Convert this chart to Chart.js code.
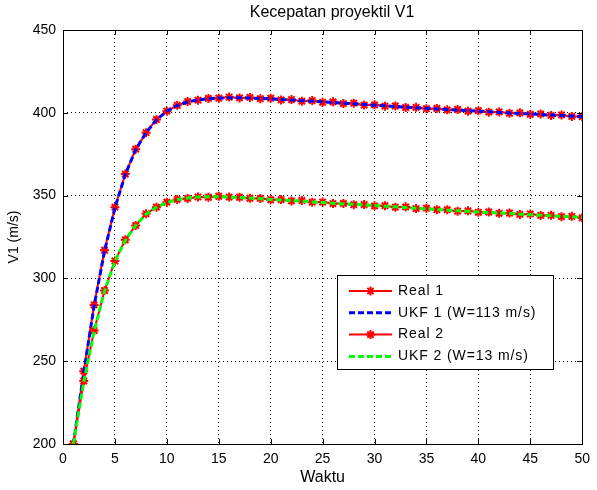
<!DOCTYPE html>
<html lang="id">
<head>
<meta charset="UTF-8">
<title>Kecepatan proyektil V1</title>
<script src="https://cdn.jsdelivr.net/npm/chart.js"></script>
<style>
  html, body { margin: 0; padding: 0; background: #fff; }
  #wrap { width: 597px; height: 490px; }
</style>
</head>
<body>
<div id="wrap"><canvas id="v1Chart" width="597" height="490"></canvas></div>
<script>
// time steps
const waktu = [
  1, 2, 3, 4, 5, 6, 7, 8, 9, 10,
  11, 12, 13, 14, 15, 16, 17, 18, 19, 20,
  21, 22, 23, 24, 25, 26, 27, 28, 29, 30,
  31, 32, 33, 34, 35, 36, 37, 38, 39, 40,
  41, 42, 43, 44, 45, 46, 47, 48, 49, 50
];

// projectile 1: real velocity and UKF estimate (m/s)
const real1 = [
  200, 244, 284, 317, 343, 363, 378, 388, 396, 401,
  404.5, 406.8, 407.6, 408.7, 408.8, 409.5, 409.0, 409.3, 408.5, 408.8,
  407.8, 408.0, 407.0, 407.4, 406.3, 406.6, 405.6, 405.8, 404.7, 404.8,
  404.0, 404.1, 403.2, 403.3, 402.5, 402.6, 401.8, 402.0, 401.0, 401.3,
  400.4, 400.5, 399.7, 400.0, 399.1, 399.3, 398.4, 398.7, 397.8, 397.7
];
const ukf1 = [
  200, 243.5, 283.5, 316.5, 342.5, 362.8, 377.8, 388, 395.8, 401,
  404.4, 406.5, 407.8, 408.5, 408.9, 409.1, 409.1, 408.9, 408.7, 408.4,
  408.0, 407.7, 407.3, 407.0, 406.6, 406.2, 405.8, 405.4, 405.0, 404.6,
  404.2, 403.8, 403.4, 403.0, 402.7, 402.3, 402.0, 401.6, 401.3, 401.0,
  400.6, 400.2, 399.9, 399.6, 399.3, 399.0, 398.6, 398.3, 398.0, 397.6
];

// projectile 2: real velocity and UKF estimate (m/s)
const real2 = [
  200, 238, 268.5, 292.7, 310.5, 323.3, 332, 339, 343, 346,
  347.7, 348.3, 349.2, 349.0, 349.6, 349.1, 349.0, 348.4, 348.3, 347.5,
  347.6, 346.8, 347.1, 346.0, 346.1, 345.2, 345.3, 344.5, 344.6, 343.8,
  343.9, 343.0, 343.2, 342.2, 342.4, 341.5, 341.5, 340.6, 340.8, 339.9,
  340.1, 339.3, 339.5, 338.6, 338.9, 338.0, 338.1, 337.3, 337.5, 336.6
];
const ukf2 = [
  200, 237.5, 268, 292.5, 310.3, 323, 332, 338.8, 343, 345.8,
  347.6, 348.6, 349.1, 349.3, 349.3, 349.1, 348.8, 348.5, 348.1, 347.7,
  347.3, 347.0, 346.6, 346.2, 345.8, 345.4, 345.0, 344.7, 344.4, 344.0,
  343.6, 343.2, 342.8, 342.4, 342.0, 341.6, 341.2, 340.8, 340.5, 340.1,
  339.8, 339.5, 339.2, 338.8, 338.5, 338.2, 337.8, 337.5, 337.2, 336.8
];

const seriesNames = ['Real 1', 'UKF 1 (W=113 m/s)', 'Real 2', 'UKF 2 (W=13 m/s)'];
const chartTitle = 'Kecepatan proyektil V1';

const FONT = "'Liberation Sans', Arial, sans-serif";

function pts(ys) {
  return waktu.map((x, i) => ({ x: x, y: ys[i] }));
}

function realSet(label, ys, order) {
  return {
    label: label,
    data: pts(ys),
    borderColor: '#ff0000',
    backgroundColor: '#ff0000',
    borderWidth: 2,
    pointStyle: 'star',
    pointRadius: 4.5,
    pointBorderWidth: 2,
    pointBorderColor: '#ff0000',
    tension: 0,
    order: order
  };
}

function ukfSet(label, ys, color, order) {
  return {
    label: label,
    data: pts(ys),
    borderColor: color,
    borderWidth: 3,
    borderDash: [6, 3],
    pointRadius: 0,
    tension: 0,
    order: order
  };
}

// title centred a little right of the axes, like the original figure
const topTitle = {
  id: 'topTitle',
  afterDraw(chart) {
    const { ctx } = chart;
    ctx.save();
    ctx.font = '16px ' + FONT;
    ctx.fillStyle = '#000';
    ctx.textAlign = 'center';
    ctx.textBaseline = 'middle';
    ctx.fillText(chartTitle, 332, 13);
    ctx.restore();
  }
};

// MATLAB-style box with inward ticks on all four sides
const boxTicks = {
  id: 'boxTicks',
  afterDatasetsDraw(chart) {
    const { ctx, chartArea: a, scales } = chart;
    ctx.save();
    ctx.strokeStyle = '#000';
    ctx.lineWidth = 1;
    ctx.beginPath();
    scales.x.ticks.forEach(t => {
      const px = Math.round(scales.x.getPixelForValue(t.value)) + 0.5;
      ctx.moveTo(px, a.bottom); ctx.lineTo(px, a.bottom - 5);
      ctx.moveTo(px, a.top); ctx.lineTo(px, a.top + 5);
    });
    scales.y.ticks.forEach(t => {
      const py = Math.round(scales.y.getPixelForValue(t.value)) + 0.5;
      ctx.moveTo(a.left, py); ctx.lineTo(a.left + 5, py);
      ctx.moveTo(a.right, py); ctx.lineTo(a.right - 5, py);
    });
    ctx.stroke();
    ctx.strokeRect(Math.round(a.left) + 0.5, Math.round(a.top) + 0.5,
      Math.round(a.right - a.left), Math.round(a.bottom - a.top));
    ctx.restore();
  }
};

// legend box inside the axes
const boxLegend = {
  id: 'boxLegend',
  afterDraw(chart) {
    const { ctx, chartArea: a } = chart;
    const x0 = a.left + 274, y0 = a.top + 245, w = 216, h = 94;
    ctx.save();
    ctx.fillStyle = '#fff';
    ctx.fillRect(x0, y0, w, h);
    ctx.strokeStyle = '#000';
    ctx.lineWidth = 1;
    ctx.strokeRect(x0 + 0.5, y0 + 0.5, w, h);
    ctx.font = '14px ' + FONT;
    ctx.letterSpacing = '0.9px';
    ctx.textBaseline = 'middle';
    chart.data.datasets.forEach((ds, i) => {
      const y = y0 + 16 + i * 21.8;
      const lx1 = x0 + 12, lx2 = x0 + 55;
      ctx.save();
      ctx.strokeStyle = ds.borderColor;
      ctx.lineWidth = ds.borderWidth;
      ctx.setLineDash(ds.borderDash || []);
      ctx.beginPath();
      ctx.moveTo(lx1, y); ctx.lineTo(lx2, y);
      ctx.stroke();
      ctx.restore();
      if (ds.pointRadius > 0) {
        const r = ds.pointRadius;
        const cx = (lx1 + lx2) / 2;
        ctx.save();
        ctx.strokeStyle = ds.pointBorderColor;
        ctx.lineWidth = ds.pointBorderWidth;
        ctx.beginPath();
        ctx.moveTo(cx - r, y); ctx.lineTo(cx + r, y);
        ctx.moveTo(cx, y - r); ctx.lineTo(cx, y + r);
        ctx.moveTo(cx - r * 0.7, y - r * 0.7); ctx.lineTo(cx + r * 0.7, y + r * 0.7);
        ctx.moveTo(cx - r * 0.7, y + r * 0.7); ctx.lineTo(cx + r * 0.7, y - r * 0.7);
        ctx.stroke();
        ctx.restore();
      }
      ctx.fillStyle = '#000';
      ctx.fillText(ds.label, x0 + 61, y);
    });
    ctx.restore();
  }
};

const ctx = document.getElementById('v1Chart').getContext('2d');
const v1Chart = new Chart(ctx, {
  type: 'line',
  data: {
    datasets: [
      realSet(seriesNames[0], real1, 4),
      ukfSet(seriesNames[1], ukf1, '#0000ff', 3),
      realSet(seriesNames[2], real2, 2),
      ukfSet(seriesNames[3], ukf2, '#00ff00', 1)
    ]
  },
  options: {
    responsive: false,
    animation: false,
    layout: { padding: { left: 0, right: 4, top: 30, bottom: 0 } },
    plugins: {
      legend: { display: false },
      tooltip: { enabled: false },
      title: { display: false }
    },
    scales: {
      x: {
        type: 'linear',
        min: 0,
        max: 50,
        afterFit(scale) { scale.height = 46; },
        ticks: { stepSize: 5, color: '#000', padding: 7, font: { family: FONT, size: 14 } },
        grid: { color: '#000', lineWidth: 1, drawTicks: false },
        border: { display: false, dash: [1, 3] },
        title: {
          display: true,
          text: 'Waktu',
          color: '#000',
          font: { family: FONT, size: 16 },
          padding: { top: 0, bottom: 3 }
        }
      },
      y: {
        min: 200,
        max: 450,
        afterFit(scale) { scale.width = 63; },
        ticks: { stepSize: 50, color: '#000', padding: 7, font: { family: FONT, size: 14 } },
        grid: { color: '#000', lineWidth: 1, drawTicks: false },
        border: { display: false, dash: [1, 3] },
        title: {
          display: true,
          text: 'V1 (m/s)',
          color: '#000',
          font: { family: FONT, size: 14 },
          padding: { top: 6, bottom: 0 }
        }
      }
    }
  },
  plugins: [boxTicks, boxLegend, topTitle]
});
</script>
</body>
</html>
